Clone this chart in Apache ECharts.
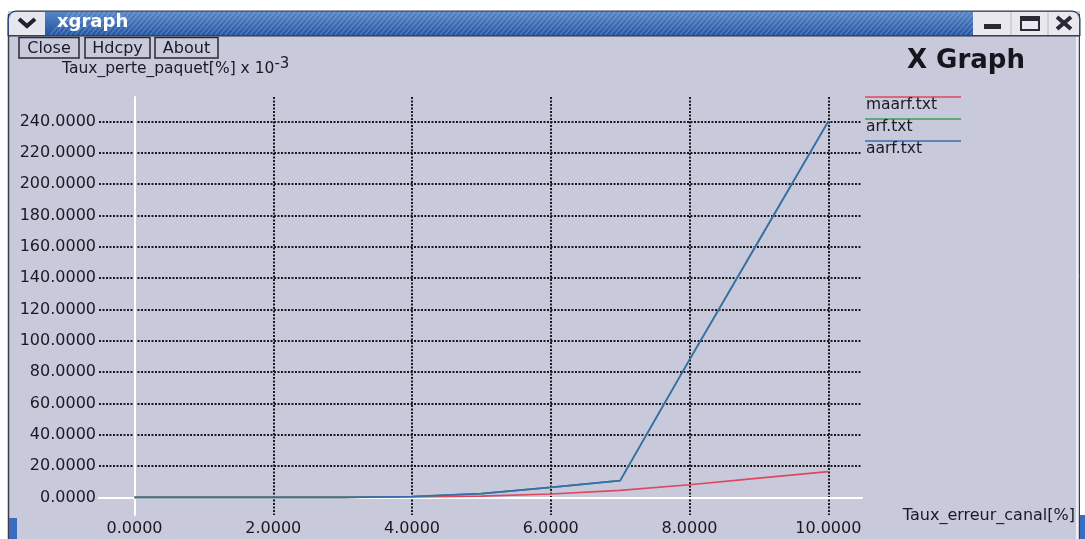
<!DOCTYPE html>
<html><head><meta charset="utf-8">
<script src="https://cdn.jsdelivr.net/npm/echarts@6/dist/echarts.min.js"></script>
<style>html,body{margin:0;padding:0;background:#fff}#c{width:1085px;height:539px}</style>
</head><body><div id="c"></div>
<script>
// ---- data ----
const xValues = [0, 1, 2, 3, 4, 5, 6, 7, 8, 9, 10];
const maarf = [0, 0, 0, 0, 0.3, 0.9, 2.2, 4.5, 8.1, 12.3, 16.5];
const arf   = [0, 0, 0, 0, 0.6, 2.5, 6.4, 10.7, 88, 164, 240];
const aarf  = [0, 0, 0, 0, 0.6, 2.5, 6.4, 10.7, 88, 164, 240];
const seriesNames = ['maarf.txt', 'arf.txt', 'aarf.txt'];
const seriesColors = ['#e0465f', '#3f9c55', '#3a6cb0'];
const xTicks = [0, 2, 4, 6, 8, 10];
const yTicks = [0, 20, 40, 60, 80, 100, 120, 140, 160, 180, 200, 220, 240];
const yName = 'Taux_perte_paquet[%] x 10';
const yNameExp = '-3';
const xName = 'Taux_erreur_canal[%]';
const windowTitle = 'xgraph';
const buttons = ['Close', 'Hdcpy', 'About'];
const bigTitle = 'X Graph';

const FONT = 'DejaVu Sans';
const BG = '#c8c9db';
const TXT = '#1a1a24';
const GRIDLINE = {color: '#1a1a1e', width: 2, type: [2, 1.5]};

const seriesData = [maarf, arf, aarf];
const fmt = v => Number(v).toFixed(4);

const graphics = [];
// outside-window areas
graphics.push({type:'rect', shape:{x:0,y:0,width:1085,height:11}, style:{fill:'#ffffff'}});
graphics.push({type:'rect', shape:{x:0,y:0,width:8,height:539}, style:{fill:'#ffffff'}});
graphics.push({type:'rect', shape:{x:1080,y:0,width:5,height:539}, style:{fill:'#ffffff'}});
// window borders
graphics.push({type:'line', shape:{x1:8.5,y1:14,x2:8.5,y2:539}, style:{stroke:'#3c3c48', lineWidth:1.5}});
graphics.push({type:'line', shape:{x1:1077,y1:36,x2:1077,y2:539}, style:{stroke:'#eeeef4', lineWidth:2}});
graphics.push({type:'line', shape:{x1:1079.5,y1:14,x2:1079.5,y2:539}, style:{stroke:'#3c3c48', lineWidth:1}});
// title bar
graphics.push({type:'rect', shape:{x:8,y:11,width:1072,height:25,r:[8,8,0,0]},
  style:{fill:{type:'linear',x:0,y:0,x2:0,y2:1,colorStops:[{offset:0,color:'#5a88c8'},{offset:1,color:'#2152a0'}]}, stroke:'#2a3550', lineWidth:1}});
// stripes
for (let sx = 50; sx < 975; sx += 5) {
  graphics.push({type:'line', shape:{x1:sx,y1:35,x2:sx+20,y2:12}, style:{stroke:'rgba(255,255,255,0.2)', lineWidth:1.2}});
}
// chevron box
graphics.push({type:'rect', shape:{x:9,y:12,width:36,height:23,r:[7,0,0,0]}, style:{fill:'#e6e6ee'}});
graphics.push({type:'polyline', shape:{points:[[19,19],[27,26],[35,19]]}, style:{stroke:'#22222c', lineWidth:4, fill:null}});
graphics.push({type:'text', left:57, top:13, style:{text:windowTitle, fill:'#ffffff', font:'bold 18px "DejaVu Sans"'}});
// right buttons
graphics.push({type:'rect', shape:{x:973,y:12,width:106,height:23,r:[0,7,0,0]}, style:{fill:'#e8e8ee'}});
graphics.push({type:'line', shape:{x1:1011,y1:12,x2:1011,y2:35}, style:{stroke:'#b8b8c4', lineWidth:1}});
graphics.push({type:'line', shape:{x1:1048,y1:12,x2:1048,y2:35}, style:{stroke:'#b8b8c4', lineWidth:1}});
graphics.push({type:'rect', shape:{x:984,y:24,width:17,height:5}, style:{fill:'#2a2a34'}});
graphics.push({type:'rect', shape:{x:1021,y:17,width:18,height:13}, style:{fill:null, stroke:'#2a2a34', lineWidth:2}});
graphics.push({type:'rect', shape:{x:1021,y:17,width:18,height:4}, style:{fill:'#2a2a34'}});
graphics.push({type:'line', shape:{x1:1057,y1:17,x2:1071,y2:29}, style:{stroke:'#2a2a34', lineWidth:4}});
graphics.push({type:'line', shape:{x1:1071,y1:17,x2:1057,y2:29}, style:{stroke:'#2a2a34', lineWidth:4}});
// buttons
const btnBoxes = [[19,37.5,60,20.5],[85,37.5,65,20.5],[155,37.5,63,20.5]];
buttons.forEach((b, i) => {
  const [bx, by, bw, bh] = btnBoxes[i];
  graphics.push({type:'rect', shape:{x:bx,y:by,width:bw,height:bh}, style:{fill:BG, stroke:'#2a2a30', lineWidth:1.5}});
  graphics.push({type:'text', x:bx+bw/2, y:by+bh/2+1, style:{text:b, fill:TXT, font:'16px "DejaVu Sans"', align:'center', verticalAlign:'middle'}});
});
// big title
graphics.push({type:'text', x:907, y:61, style:{text:bigTitle, fill:'#15151c', font:'bold 26px "DejaVu Sans"', verticalAlign:'middle'}});
// axis names
graphics.push({type:'text', x:62, y:69, style:{text:yName + '{sup|' + yNameExp + '}', fill:TXT, font:'15.5px "DejaVu Sans"', verticalAlign:'middle',
  rich:{sup:{fontSize:15, fontFamily:FONT, fill:TXT, padding:[0,0,9,0]}}}});
graphics.push({type:'text', x:1075, y:516, style:{text:xName, fill:TXT, font:'16px "DejaVu Sans"', align:'right', verticalAlign:'middle'}});
// legend
seriesNames.forEach((n, i) => {
  const ly = 97 + 22 * i;
  graphics.push({type:'line', shape:{x1:865,y1:ly,x2:961,y2:ly}, style:{stroke:seriesColors[i], lineWidth:1.5}});
  graphics.push({type:'text', x:866, y:ly+8, style:{text:n, fill:TXT, font:'15.5px "DejaVu Sans"', verticalAlign:'middle'}});
});
// bottom blue bits
graphics.push({type:'rect', shape:{x:9,y:518,width:8,height:21}, style:{fill:'#3a6cc0'}});
graphics.push({type:'rect', shape:{x:1080,y:515,width:5,height:24}, style:{fill:'#3a6cc0'}});

const option = {
  animation: false,
  backgroundColor: BG,
  textStyle: {fontFamily: FONT},
  grid: [
    {left: 134.5, right: 1085 - 828.3, top: 97, bottom: 539 - 515},
    {left: 99, right: 1085 - 862, top: 121.5, bottom: 539 - 497.5}
  ],
  xAxis: [
    {gridIndex: 0, type: 'value', min: xTicks[0], max: xTicks[xTicks.length - 1], interval: 2,
     axisLine: {show: false, onZero: false}, axisTick: {show: false},
     axisLabel: {formatter: fmt, fontSize: 16, color: TXT, margin: 6, fontFamily: FONT},
     splitLine: {show: true, showMinLine: false, lineStyle: GRIDLINE}},
    {gridIndex: 1, type: 'value', min: -0.5, max: 10.5,
     axisLabel: {show: false}, axisTick: {show: false}, splitLine: {show: false},
     axisLine: {show: true, lineStyle: {color: '#ffffff', width: 2}}}
  ],
  yAxis: [
    {gridIndex: 0, type: 'value', min: -11.2, max: 255.6,
     axisLabel: {show: false}, axisTick: {show: false}, splitLine: {show: false},
     axisLine: {show: true, onZero: false, lineStyle: {color: '#ffffff', width: 2}}},
    {gridIndex: 1, type: 'value', min: yTicks[0], max: yTicks[yTicks.length - 1], interval: 20,
     axisLine: {show: false}, axisTick: {show: false},
     axisLabel: {formatter: fmt, fontSize: 16, color: TXT, margin: 3, fontFamily: FONT},
     splitLine: {show: true, showMinLine: false, lineStyle: GRIDLINE}}
  ],
  series: seriesNames.map((n, i) => ({
    name: n, type: 'line', xAxisIndex: 0, yAxisIndex: 0,
    showSymbol: false, symbol: 'none',
    lineStyle: {color: seriesColors[i], width: 1.7},
    itemStyle: {color: seriesColors[i]},
    data: xValues.map((x, j) => [x, seriesData[i][j]]),
    z: 3 + i
  })),
  graphic: {elements: graphics}
};
const chart = echarts.init(document.getElementById('c'), null, {renderer: 'canvas'});
chart.setOption(option);
</script>
</body></html>
